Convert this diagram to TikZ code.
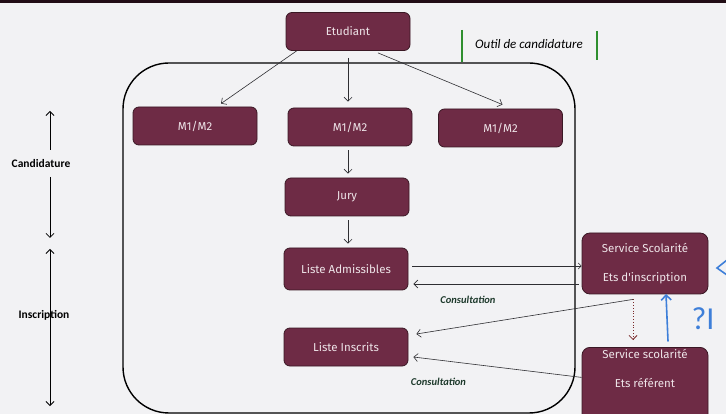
\documentclass[tikz,border=0pt]{standalone}
\usepackage{fontspec}
\setmainfont{Carlito}
\newfontfamily\boxfont{Fira Sans}
\usetikzlibrary{arrows.meta}
\definecolor{boxfill}{HTML}{6E2B45}
\definecolor{boxline}{HTML}{3A1824}
\definecolor{boxtxt}{HTML}{EEE4E8}
\definecolor{bgc}{HTML}{F2F2F4}
\definecolor{linec}{HTML}{2E2E32}
\definecolor{greenbar}{HTML}{2F8F2F}
\definecolor{consc}{HTML}{1E3A2C}
\definecolor{penblue}{HTML}{3E7FD9}
\definecolor{redarrow}{HTML}{7A2A2A}
\tikzset{
  box/.style={draw=boxline, line width=0.8pt, fill=boxfill, rounded corners=6pt,
    minimum width=124pt, minimum height=38pt, inner sep=0pt,
    text=boxtxt, font=\boxfont\fontsize{11.5}{13}\selectfont},
  boxlabel/.style={inner sep=0pt, text=boxtxt, font=\boxfont\fontsize{11.5}{13}\selectfont},
  conn/.style={draw=linec, line width=0.6pt, -{Straight Barb[length=4pt,width=8pt]}},
  phase/.style={inner sep=1pt, font=\bfseries\fontsize{11.5}{13}\selectfont, text=black},
  cons/.style={inner sep=0pt, text=consc, font=\bfseries\itshape\fontsize{10.5}{12}\selectfont},
}
\begin{document}
\begin{tikzpicture}[x=1pt,y=-1pt]
\useasboundingbox (0,0) rectangle (726,414);
\clip (0,0) rectangle (726,414);
\fill[bgc] (0,0) rectangle (726,414);
\fill[black!70!boxfill] (0,0) rectangle (726,3);

% outline frame
\draw[black, line width=1.4pt, rounded corners=46pt] (123,63) rectangle (575,413);

% title
\node[inner sep=0pt, font=\itshape\fontsize{13}{15}\selectfont] (outil) at (529,44) {Outil de candidature};
\draw[greenbar, line width=2.5pt] (462,30) -- (462,62);
\draw[greenbar, line width=2.5pt] (597,31) -- (597,60);

% boxes
\node[box] (etu) at (348,31.5) {Etudiant};
\node[box] (m1a) at (195,126) {M1/M2};
\node[box] (m1b) at (350,127) {M1/M2};
\node[box] (m1c) at (500.5,128) {M1/M2};
\node[box] (jury) at (347,197) {Jury};
\node[box, minimum height=42pt] (adm) at (346,269) {Liste Admissibles};
\node[box] (ins) at (346,347) {Liste Inscrits};
\node[box, minimum width=126pt, minimum height=61pt, rounded corners=8pt, align=center] (svc) at (645,263.5)
  {Service Scolarit\'e\\[16pt]Ets d'inscription};
\node[box, minimum width=126pt, minimum height=80pt, rounded corners=8pt, anchor=north] (ref) at (645,347) {};
\node[boxlabel] (refa) at (645,354) {Service scolarit\'e};
\node[boxlabel] (refb) at (645,383) {Ets r\'ef\'erent};

% connectors
\draw[conn] ([xshift=11pt]etu.south west) -- ([xshift=26pt,yshift=3pt]m1a.north);
\draw[conn] ([yshift=-7pt]etu.south) -- ([xshift=-2pt,yshift=6pt]m1b.north);
\draw[conn] ([xshift=30pt,yshift=-2pt]etu.south) -- ([xshift=2pt,yshift=4pt]m1c.north);
\draw[conn] ([xshift=-2pt,yshift=-4pt]m1b.south) -- ([xshift=1pt,yshift=4pt]jury.north);
\draw[conn] ([xshift=1pt,yshift=-4pt]jury.south) -- ([xshift=2pt,yshift=4pt]adm.north);
\draw[conn, -{Straight Barb[length=3pt,width=6pt]}] ([xshift=4pt,yshift=3pt]adm.east) -- ([yshift=-2.5pt]svc.west);
\draw[conn] ([xshift=-3pt,yshift=-20.5pt]svc.west) -- ([xshift=5pt,yshift=-15pt]adm.east);
\node[cons] (cons1) at (468,300) {Consultation};
\draw[conn] ([xshift=-12pt,yshift=-5pt]svc.south) -- ([xshift=8pt,yshift=13pt]ins.east);
\draw[draw=redarrow, line width=0.8pt, dotted, -{Straight Barb[length=4pt,width=8pt]}] ([xshift=-12pt,yshift=-5pt]svc.south) -- ([xshift=-12pt,yshift=7pt]ref.north);
\draw[conn] ([yshift=10pt]ref.west) -- ([xshift=5pt,yshift=-10pt]ins.east);
\node[cons] (cons2) at (438.5,382) {Consultation};

% left phase arrows
\node[phase] (cand) at (41,164) {Candidature};
\node[phase] (insc) at (44,315) {Inscription};
\coordinate (c1) at (50,111);
\coordinate (c2) at (50,150);
\coordinate (c3) at (50,177);
\coordinate (c4) at (50,238);
\coordinate (i1) at (50,249);
\coordinate (i2) at (50,406);
\draw[black, line width=0.8pt, -{Straight Barb[length=4pt,width=8pt]}] (c2) -- (c1);
\draw[black, line width=0.8pt, -{Straight Barb[length=4pt,width=8pt]}] (c3) -- (c4);
\draw[black, line width=0.8pt, {Straight Barb[length=4pt,width=8pt]}-{Straight Barb[length=4pt,width=8pt]}] (i1) -- (i2);

% handwritten blue annotations
\coordinate (b1) at (668,341);
\coordinate (b2) at (666,294);
\draw[penblue, line width=1.6pt, line cap=round, -{Straight Barb[length=5pt,width=10pt]}] (b1) -- (b2);
\node[inner sep=0pt, text=penblue, font=\fontsize{32}{34}\selectfont] (pi) at (703,319) {?I};
\draw[penblue, line width=1.6pt, line cap=round] (727,260) -- (717,268) -- (727,275);
\end{tikzpicture}
\end{document}
